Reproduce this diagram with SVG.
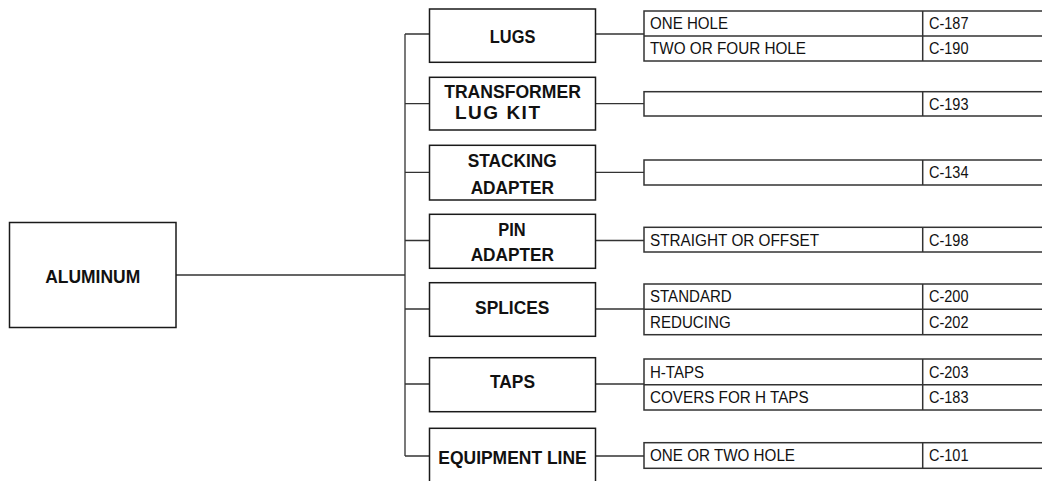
<svg xmlns="http://www.w3.org/2000/svg" width="1042" height="481" viewBox="0 0 1042 481">
<style>
.box{fill:#fff;stroke:#1a1a1a;stroke-width:1.5}
.tbl{fill:#fff;stroke:#333;stroke-width:1.5}
.ln{fill:none;stroke:#333;stroke-width:1.3}
.b{font-family:"Liberation Sans",Arial,sans-serif;font-weight:bold;font-size:19px;fill:#111;text-anchor:middle}
.t{font-family:"Liberation Sans",Arial,sans-serif;font-size:16px;fill:#111}
</style>
<rect width="1042" height="481" fill="#fff"/>
<g id="connectors">
<path class="ln" d="M176,275H405M405,34V456"/>
<path class="ln" d="M405,34H429.5M405,103.7H429.5M405,172.3H429.5M405,240.5H429.5M405,309H429.5M405,384H429.5M405,456H429.5"/>
<path class="ln" d="M595.5,34H644M595.5,103.7H644M595.5,172.3H644M595.5,240.5H644M595.5,309H644M595.5,384H644M595.5,456H644"/>
</g>
<g id="aluminum">
<rect class="box" x="9.5" y="222.5" width="166.5" height="105"/>
<text class="b" x="92.7" y="282.5" textLength="95" lengthAdjust="spacingAndGlyphs">ALUMINUM</text>
</g>
<g id="lugs">
<rect class="box" x="429.5" y="9" width="166" height="53.3"/>
<text class="b" x="512.6" y="42.7" textLength="45.5" lengthAdjust="spacingAndGlyphs">LUGS</text>
</g>
<g id="lugs-table">
<rect class="tbl" x="644" y="11" width="410" height="50"/>
<path class="tbl" d="M644,36H1054M922.7,11V61"/>
<text class="t" x="650" y="29" textLength="78" lengthAdjust="spacingAndGlyphs">ONE HOLE</text>
<text class="t" x="650" y="54" textLength="156" lengthAdjust="spacingAndGlyphs">TWO OR FOUR HOLE</text>
<text class="t" x="929" y="29" textLength="39.5" lengthAdjust="spacingAndGlyphs">C-187</text>
<text class="t" x="929" y="54" textLength="39.5" lengthAdjust="spacingAndGlyphs">C-190</text>
</g>
<g id="transformer">
<rect class="box" x="429.5" y="77.3" width="166" height="52.7"/>
<text class="b" x="512.5" y="97.5" textLength="136.7" lengthAdjust="spacingAndGlyphs">TRANSFORMER</text>
<text class="b" x="455" y="119.2" textLength="85" lengthAdjust="spacing" style="text-anchor:start">LUG KIT</text>
</g>
<g id="transformer-table">
<rect class="tbl" x="644" y="91.7" width="410" height="24.3"/>
<path class="tbl" d="M922.7,91.7V116"/>
<text class="t" x="929" y="110" textLength="39.5" lengthAdjust="spacingAndGlyphs">C-193</text>
</g>
<g id="stacking">
<rect class="box" x="429.5" y="145.3" width="166" height="54.7"/>
<text class="b" x="512.2" y="166.6" textLength="89" lengthAdjust="spacingAndGlyphs">STACKING</text>
<text class="b" x="512.3" y="194.2" textLength="83.3" lengthAdjust="spacingAndGlyphs">ADAPTER</text>
</g>
<g id="stacking-table">
<rect class="tbl" x="644" y="160" width="410" height="25"/>
<path class="tbl" d="M922.7,160V185"/>
<text class="t" x="929" y="178.3" textLength="39.5" lengthAdjust="spacingAndGlyphs">C-134</text>
</g>
<g id="pin">
<rect class="box" x="429.5" y="214.3" width="166" height="54"/>
<text class="b" x="512" y="236" textLength="27.4" lengthAdjust="spacingAndGlyphs">PIN</text>
<text class="b" x="512.3" y="261" textLength="83.3" lengthAdjust="spacingAndGlyphs">ADAPTER</text>
</g>
<g id="pin-table">
<rect class="tbl" x="644" y="227.3" width="410" height="24.7"/>
<path class="tbl" d="M922.7,227.3V252"/>
<text class="t" x="650" y="245.5" textLength="169" lengthAdjust="spacingAndGlyphs">STRAIGHT OR OFFSET</text>
<text class="t" x="929" y="245.5" textLength="39.5" lengthAdjust="spacingAndGlyphs">C-198</text>
</g>
<g id="splices">
<rect class="box" x="429.5" y="282.7" width="166" height="53.6"/>
<text class="b" x="512.2" y="314" textLength="74.3" lengthAdjust="spacingAndGlyphs">SPLICES</text>
</g>
<g id="splices-table">
<rect class="tbl" x="644" y="284" width="410" height="50.7"/>
<path class="tbl" d="M644,309.3H1054M922.7,284V334.7"/>
<text class="t" x="650" y="302.3" textLength="81.7" lengthAdjust="spacingAndGlyphs">STANDARD</text>
<text class="t" x="650" y="327.8" textLength="80.7" lengthAdjust="spacingAndGlyphs">REDUCING</text>
<text class="t" x="929" y="302.3" textLength="39.5" lengthAdjust="spacingAndGlyphs">C-200</text>
<text class="t" x="929" y="327.8" textLength="39.5" lengthAdjust="spacingAndGlyphs">C-202</text>
</g>
<g id="taps">
<rect class="box" x="429.5" y="357.7" width="166" height="54"/>
<text class="b" x="512.5" y="388.3" textLength="45" lengthAdjust="spacingAndGlyphs">TAPS</text>
</g>
<g id="taps-table">
<rect class="tbl" x="644" y="359" width="410" height="51"/>
<path class="tbl" d="M644,384.7H1054M922.7,359V410"/>
<text class="t" x="650" y="377.6" textLength="54" lengthAdjust="spacingAndGlyphs">H-TAPS</text>
<text class="t" x="650" y="403.1" textLength="158.7" lengthAdjust="spacingAndGlyphs">COVERS FOR H TAPS</text>
<text class="t" x="929" y="377.6" textLength="39.5" lengthAdjust="spacingAndGlyphs">C-203</text>
<text class="t" x="929" y="403.1" textLength="39.5" lengthAdjust="spacingAndGlyphs">C-183</text>
</g>
<g id="equipment">
<rect class="box" x="429.5" y="428.3" width="166" height="70"/>
<text class="b" x="512.5" y="464" textLength="148.4" lengthAdjust="spacingAndGlyphs">EQUIPMENT LINE</text>
</g>
<g id="equipment-table">
<rect class="tbl" x="644" y="442.7" width="410" height="25.6"/>
<path class="tbl" d="M922.7,442.7V468.3"/>
<text class="t" x="650" y="461.3" textLength="145" lengthAdjust="spacingAndGlyphs">ONE OR TWO HOLE</text>
<text class="t" x="929" y="461.3" textLength="39.5" lengthAdjust="spacingAndGlyphs">C-101</text>
</g>
</svg>
